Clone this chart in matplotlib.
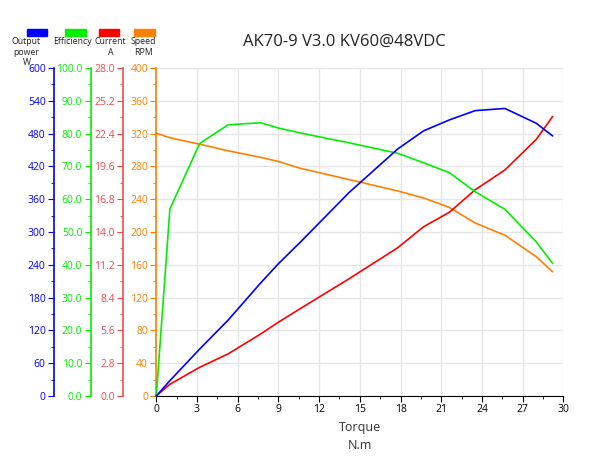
import matplotlib
matplotlib.use("Agg")
import matplotlib.pyplot as plt
from matplotlib.patches import Rectangle
from matplotlib.ticker import MultipleLocator, FormatStrFormatter

plt.rcParams['font.family'] = ['Open Sans', 'DejaVu Sans']

title = "AK70-9 V3.0 KV60@48VDC"
torque = [0, 1.0, 3.2, 5.3, 7.7, 9.0, 10.6, 14.2, 17.8, 19.7, 21.6, 23.5, 25.7, 28.0, 29.2]
power_w = [0, 28, 86, 139, 207, 242, 281, 372, 452, 485, 505, 522, 526, 499, 476]
efficiency = [0, 57.0, 77.0, 82.7, 83.3, 81.7, 80.2, 77.2, 74.0, 71.1, 68.1, 62.3, 56.9, 47.0, 40.5]
current_a = [0, 1.0, 2.45, 3.6, 5.3, 6.3, 7.45, 10.0, 12.66, 14.45, 15.68, 17.6, 19.3, 21.9, 23.84]
speed_rpm = [320.4, 315, 307, 299, 291, 286, 277.7, 264, 250, 241.5, 230, 211, 196, 170, 151.6]

C_BLUE = "#0000FF"
C_GREEN = "#00F000"
C_RED = "#FF0000"
C_ORANGE = "#FF7F00"
C_RED_AX = "#F24A4A"

W, H = 597, 457
fig = plt.figure(figsize=(W / 100, H / 100), dpi=100)
L, R, T, B = 156.3, 563.3, 68, 396
ax = fig.add_axes([L / W, 1 - B / H, (R - L) / W, (B - T) / H])

# main axis: speed
ax.set_xlim(0, 30)
ax.set_ylim(0, 400)
ax.xaxis.set_major_locator(MultipleLocator(3))
ax.xaxis.set_minor_locator(MultipleLocator(1.5))
ax.yaxis.set_major_locator(MultipleLocator(40))
ax.yaxis.set_minor_locator(MultipleLocator(20))
ax.grid(True, which='major', color='#e6e6e6', lw=1.0)
ax.set_axisbelow(True)
for s in ['top', 'right']:
    ax.spines[s].set_visible(False)
ax.spines['left'].set_color(C_ORANGE)
ax.spines['left'].set_linewidth(1.2)
ax.spines['bottom'].set_color('black')
ax.tick_params(axis='y', which='both', direction='out', colors=C_ORANGE, labelsize=7.5, pad=2)
ax.tick_params(axis='y', which='major', length=4)
ax.tick_params(axis='y', which='minor', length=2.5)
ax.tick_params(axis='x', which='both', direction='out', colors='black', labelsize=7.5, pad=2)
ax.tick_params(axis='x', which='major', length=4)
ax.tick_params(axis='x', which='minor', length=2.5)
ax.set_xlabel("Torque\nN.m", fontsize=9, color='#333333', labelpad=4, linespacing=1.5)


def make_axis(offset_px, ylim, major, minor, color, labcolor, fmt):
    a = ax.twinx()
    a.set_ylim(*ylim)
    a.yaxis.set_ticks_position('left')
    a.yaxis.set_label_position('left')
    a.spines['left'].set_visible(True)
    a.spines['left'].set_position(('axes', (offset_px - L) / (R - L)))
    a.spines['left'].set_color(color)
    a.spines['left'].set_linewidth(1.2)
    for s in ['top', 'right', 'bottom']:
        a.spines[s].set_visible(False)
    a.yaxis.set_major_locator(MultipleLocator(major))
    a.yaxis.set_minor_locator(MultipleLocator(minor))
    a.yaxis.set_major_formatter(FormatStrFormatter(fmt))
    a.tick_params(axis='y', which='both', direction='out', color=color, labelcolor=labcolor,
                  labelsize=7.5, pad=2)
    a.tick_params(axis='y', which='major', length=4)
    a.tick_params(axis='y', which='minor', length=2.5)
    return a


ax_red = make_axis(123.3, (0, 28), 2.8, 1.4, C_RED_AX, C_RED_AX, '%.1f')
ax_green = make_axis(90.7, (0, 100), 10, 5, C_GREEN, C_GREEN, '%.1f')
ax_blue = make_axis(54.0, (0, 600), 60, 30, C_BLUE, C_BLUE, '%d')

ax.yaxis.set_major_formatter(FormatStrFormatter('%d'))

lw = 1.2
ax.plot(torque, speed_rpm, color=C_ORANGE, lw=lw, clip_on=False)
ax_red.plot(torque, current_a, color=C_RED, lw=lw, clip_on=False)
ax_green.plot(torque, efficiency, color=C_GREEN, lw=lw, clip_on=False)
ax_blue.plot(torque, power_w, color=C_BLUE, lw=lw, clip_on=False)

fig.text(344.5 / W, 1 - 42 / H, title, ha='center', va='center', fontsize=12, color='#222222')

# legend
legend = [
    (C_BLUE, 26.7, 46.7, "Output\npower\nW", 26.5),
    (C_GREEN, 65, 86, "Efficiency", 72),
    (C_RED, 99, 119.3, "Current\nA", 110.5),
    (C_ORANGE, 134.3, 155, "Speed\nRPM", 143.5),
]
for col, x0, x1, txt, tx in legend:
    fig.patches.append(Rectangle((x0 / W, 1 - 35.7 / H), (x1 - x0) / W, 6.4 / H,
                                 transform=fig.transFigure, color=col, figure=fig))
    fig.text(tx / W, 1 - 37.5 / H, txt, ha='center', va='top', fontsize=6.3, color='#222222',
             linespacing=1.2)

fig.savefig("out.png", dpi=100)
